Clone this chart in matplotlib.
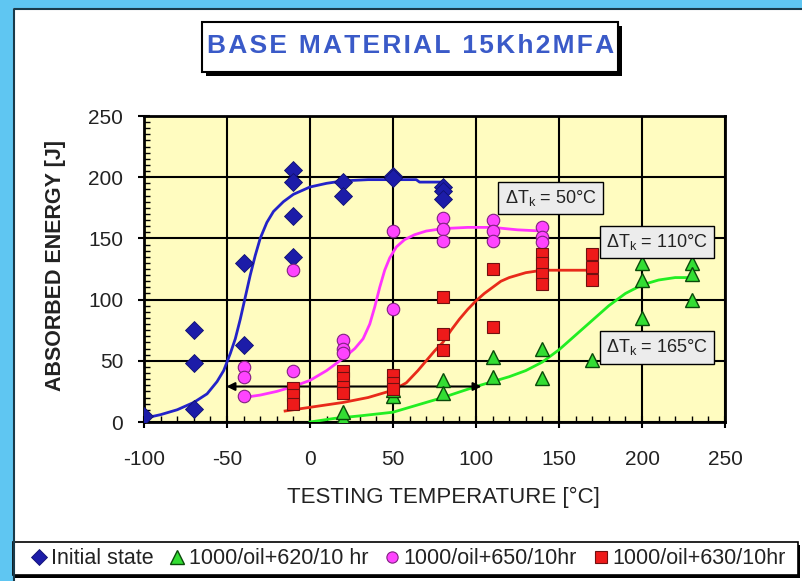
import matplotlib
matplotlib.use("Agg")
import matplotlib.pyplot as plt
from matplotlib.patches import Rectangle
from matplotlib.ticker import MultipleLocator

plt.rcParams['font.family'] = ['Liberation Sans', 'DejaVu Sans']
plt.rcParams['mathtext.default'] = 'regular'
plt.rcParams['axes.unicode_minus'] = False

# measured points
init_T = [-100, -70, -70, -70, -40, -40, -10, -10, -10, -10, 20, 20, 50, 50, 80, 80, 80]
init_E = [5, 75, 48, 11, 130, 63, 206, 196, 168, 135, 196, 185, 201, 199, 192, 189, 182]

oil620_T = [20, 20, 50, 50, 80, 80, 110, 110, 140, 140, 170, 200, 200, 200, 230, 230, 230]
oil620_E = [3, 8, 21, 26, 34, 24, 53, 37, 60, 36, 51, 130, 116, 85, 130, 121, 100]

oil650_T = [-40, -40, -40, -10, -10, 20, 20, 20, 50, 50, 80, 80, 80, 110, 110, 110, 140, 140, 140]
oil650_E = [45, 37, 21, 124, 42, 67, 60, 56, 156, 92, 167, 158, 148, 165, 156, 148, 159, 151, 147]

oil630_T = [-10, -10, -10, 20, 20, 20, 20, 50, 50, 50, 80, 80, 80, 110, 110, 140, 140, 140, 140, 170, 170, 170]
oil630_E = [28, 22, 15, 42, 36, 29, 24, 38, 32, 27, 102, 72, 59, 125, 78, 137, 130, 121, 113, 137, 127, 116]

# fitted curves
init_fit_T = [-100, -90, -80, -70, -62, -56, -52, -48, -45, -42, -39, -36, -33, -30, -26, -22, -16, -10,
              0, 10, 20, 35, 50, 64, 66, 80]
init_fit_E = [3, 6, 10, 16, 23, 33, 42, 56, 68, 84, 102, 120, 136, 150, 163, 172, 180, 186,
              192, 195, 197, 198, 198, 198, 196, 196]

oil650_fit_T = [-40, -30, -20, -10, 0, 10, 20, 27, 32, 36, 39, 42, 45, 48, 52, 57, 63, 70, 80, 95, 110, 125, 140]
oil650_fit_E = [20, 22, 25, 29, 34, 42, 52, 60, 68, 80, 94, 110, 124, 134, 143, 149, 153, 156, 158, 159, 159, 157, 156]

oil630_fit_T = [-15, 0, 20, 35, 50, 58, 65, 70, 75, 80, 85, 90, 95, 100, 105, 110, 115, 120, 130, 140, 170]
oil630_fit_E = [9, 12, 16, 20, 26, 32, 42, 50, 58, 65, 75, 84, 92, 99, 105, 110, 115, 118, 122, 124, 124]

oil620_fit_T = [0, 15, 30, 50, 65, 80, 100, 120, 130, 140, 150, 160, 170, 180, 190, 200, 210, 220, 230]
oil620_fit_E = [0, 3, 5, 8, 14, 20, 29, 37, 42, 49, 59, 71, 83, 95, 105, 112, 116, 118, 118]

arrow_T = [-52, 105]
arrow_E = 29

notes = ['ΔT$_k$ = 50°C', 'ΔT$_k$ = 110°C', 'ΔT$_k$ = 165°C']
notes_T = [145, 209, 209]
notes_E = [183, 147, 61]

x_ticks = [-100, -50, 0, 50, 100, 150, 200, 250]
y_ticks = [0, 50, 100, 150, 200, 250]

title = 'BASE MATERIAL 15Kh2MFA'

fig = plt.figure(figsize=(8.02, 5.81), dpi=100)
W, H = 802, 581

# light blue frame on left / top
fig.patches.append(Rectangle((0, 0), 13 / W, 1, transform=fig.transFigure, fc='#5fc6f2', ec='none', zorder=0))
fig.patches.append(Rectangle((0, 1 - 8 / H), 1, 8 / H, transform=fig.transFigure, fc='#5fc6f2', ec='none', zorder=0))
fig.lines.append(plt.Line2D([13.5 / W, 13.5 / W, 1], [0, 1 - 9 / H, 1 - 9 / H], transform=fig.transFigure, color='#1a3a4a', lw=1.5))

ax = fig.add_axes([144 / W, 1 - 422 / H, 581 / W, 306 / H])
ax.set_facecolor('#fffcc0')

ax.plot(init_fit_T, init_fit_E, color='#2323c8', lw=2, zorder=3)
ax.plot(oil650_fit_T, oil650_fit_E, color='#ff33ff', lw=2, zorder=3)
ax.plot(oil630_fit_T, oil630_fit_E, color='#e82a1a', lw=2, zorder=3)
ax.plot(oil620_fit_T, oil620_fit_E, color='#22ee22', lw=2, zorder=3)

ax.annotate('', xy=(arrow_T[0], arrow_E), xytext=(arrow_T[1], arrow_E),
            arrowprops=dict(arrowstyle='<|-|>', color='black', lw=1.5, mutation_scale=12), zorder=4)

ax.plot(init_T, init_E, 'D', color='#1c1ca8', ms=9.5, mec='#101070', mew=0.6, ls='none', zorder=5, label='Initial state')
ax.plot(oil620_T, oil620_E, '^', color='#33dd33', ms=10.5, mec='#0a4a0a', mew=1, ls='none', zorder=5, label='1000/oil+620/10 hr')
ax.plot(oil650_T, oil650_E, 'o', color='#ff44ff', ms=9, mec='#802080', mew=0.8, ls='none', zorder=5, label='1000/oil+650/10hr')
ax.plot(oil630_T, oil630_E, 's', color='#ee1a1a', ms=9, mec='#701010', mew=0.8, ls='none', zorder=5, label='1000/oil+630/10hr')

for t, x, y in zip(notes, notes_T, notes_E):
    ax.text(x, y, t, ha='center', va='center', fontsize=13, zorder=6, color='#222222',
            bbox=dict(boxstyle='square,pad=0.35', fc='#ececec', ec='black', lw=1))

ax.set_xlim(-100, 250)
ax.set_ylim(0, 250)
ax.set_xticks(x_ticks)
ax.set_yticks(y_ticks)
ax.xaxis.set_minor_locator(MultipleLocator(10))
ax.yaxis.set_minor_locator(MultipleLocator(5))
ax.grid(True, which='major', color='black', lw=1.5, zorder=1)
ax.set_axisbelow(True)
ax.tick_params(which='major', direction='inout', length=8, width=1.5, labelsize=15, labelcolor='#222222')
ax.tick_params(axis='x', which='major', pad=16)
ax.tick_params(axis='y', which='major', pad=11)
ax.tick_params(which='minor', direction='in', length=4, width=1)
for s in ax.spines.values():
    s.set_linewidth(2)

fig.text(55 / W, 1 - 266 / H, 'ABSORBED ENERGY [J]', rotation=90, ha='center', va='center',
         fontsize=15.5, fontweight='bold', color='#222222')
fig.text(443 / W, 1 - 497 / H, 'TESTING TEMPERATURE [°C]', ha='center', va='center',
         fontsize=16, color='#222222')

# title box with shadow
fig.patches.append(Rectangle((206 / W, 1 - 76 / H), 416 / W, 50 / H, transform=fig.transFigure, fc='black', ec='none'))
fig.patches.append(Rectangle((202 / W, 1 - 72 / H), 416 / W, 50 / H, transform=fig.transFigure, fc='white', ec='black', lw=1.5))
fig.text(411 / W, 1 - 46 / H, '\u200a'.join(title), ha='center', va='center',
         fontsize=19, fontweight='bold', color='#3a5ac8')

# legend with shadow
fig.patches.append(Rectangle((15 / W, 3 / H), 785 / W, 33 / H, transform=fig.transFigure, fc='black', ec='none'))
fig.patches.append(Rectangle((13 / W, 6 / H), 785 / W, 33 / H, transform=fig.transFigure, fc='white', ec='black', lw=1.2))
h, l = ax.get_legend_handles_labels()
fig.legend(h, l, loc='center', bbox_to_anchor=(407 / W, 1 - 559 / H), ncol=4, frameon=False,
           fontsize=15.5, handletextpad=0.05, columnspacing=0.6, handlelength=1.0, markerscale=0.9,
           labelcolor='#222222')

fig.savefig('out.png', dpi=100)
